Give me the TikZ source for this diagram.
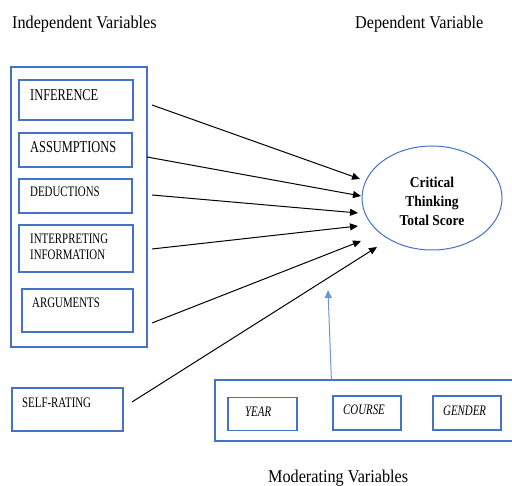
\documentclass[tikz,border=0pt]{standalone}
\usepackage{fontspec}
\setmainfont{Liberation Serif}
\newfontfamily\lblfont{Liberation Serif}[FakeStretch=0.75]
\newfontfamily\ttlfont{Liberation Serif}[FakeStretch=0.9]
\usetikzlibrary{arrows.meta,shapes.geometric,calc}
\definecolor{boxblue}{RGB}{68,114,196}
\definecolor{arrblue}{RGB}{110,150,215}
\begin{document}
\begin{tikzpicture}[x=1pt,y=-1pt,
  bx/.style={draw=boxblue, line width=1.3pt, rectangle, inner sep=0pt},
  lbl/.style={inner sep=0pt, anchor=west, align=left, font=\lblfont\fontsize{14.5}{15.6}\selectfont},
  biglbl/.style={lbl, font=\lblfont\fontsize{16.5}{18}\selectfont},
  ilbl/.style={lbl, font=\lblfont\itshape\fontsize{14.5}{15.6}\selectfont},
  ttl/.style={inner sep=0pt, anchor=base west, font=\ttlfont\fontsize{18}{20}\selectfont},
  arr/.style={-{Triangle[length=8pt,width=7pt]}, line width=1pt, black},
  barr/.style={-{Triangle[length=8pt,width=7pt]}, line width=1pt, arrblue},
]
\useasboundingbox (0,0) rectangle (512,486);

% titles
\node[ttl] (tiv) at (12,28.3) {Independent Variables};
\node[ttl] (tdv) at (355,28.3) {Dependent Variable};
\node[ttl] (tmv) at (268,483) {Moderating Variables};

% independent variables
\node[bx, minimum width=136pt, minimum height=280pt] (iv) at (79,207) {};
\node[bx, minimum width=114pt, minimum height=40pt] (inf) at (76,100) {};
\node[bx, minimum width=113pt, minimum height=34pt] (ass) at (75.5,150) {};
\node[bx, minimum width=113pt, minimum height=34pt] (ded) at (75.5,196) {};
\node[bx, minimum width=114pt, minimum height=47pt] (int) at (76,248.5) {};
\node[bx, minimum width=111pt, minimum height=43pt] (arg) at (77.5,310.5) {};
\node[bx, minimum width=111pt, minimum height=43pt] (self) at (67.5,409.5) {};

\node[biglbl] (inf-t) at (30,95.3) {INFERENCE};
\node[biglbl] (ass-t) at (30,147.5) {ASSUMPTIONS};
\node[lbl] (ded-t) at (30,192) {DEDUCTIONS};
\node[lbl] (int-t) at (30,246.5) {INTERPRETING\\INFORMATION};
\node[lbl] (arg-t) at (32,303) {ARGUMENTS};
\node[lbl] (self-t) at (22,403) {SELF-RATING};

% dependent variable
\node[ellipse, draw=boxblue, line width=1pt, inner sep=0pt,
      minimum width=140pt, minimum height=104pt] (ct) at (432,198) {};
\node[inner sep=0pt, align=center,
      font=\ttlfont\bfseries\fontsize{15}{19}\selectfont] (ct-t) at (432,201)
      {Critical\\Thinking\\Total Score};

% moderating variables
\node[bx, minimum width=299pt, minimum height=61pt] (mod) at (364.5,410.5) {};
\node[bx, minimum width=69pt, minimum height=33pt] (year) at (262.5,414) {};
\node[bx, minimum width=68pt, minimum height=34pt] (course) at (367,413) {};
\node[bx, minimum width=68pt, minimum height=34pt] (gender) at (467,413) {};
\node[ilbl] (year-t) at (245,411.7) {YEAR};
\node[ilbl] (course-t) at (343,410) {COURSE};
\node[ilbl] (gender-t) at (443,411) {GENDER};

% connectors
\coordinate (s1) at (152,105); \coordinate (t1) at (360,179);
\coordinate (s2) at (147,157); \coordinate (t2) at (361,196);
\coordinate (s3) at (152,195); \coordinate (t3) at (358,213);
\coordinate (s4) at (152,249); \coordinate (t4) at (358,226);
\coordinate (s5) at (152,323); \coordinate (t5) at (361,241);
\coordinate (s6) at (132,402); \coordinate (t6) at (377,247);
\coordinate (s7) at ($(mod.north west)+(117,0)$); \coordinate (t7) at (328,290);

\draw[arr] (s1) -- (t1);
\draw[arr] (s2) -- (t2);
\draw[arr] (s3) -- (t3);
\draw[arr] (s4) -- (t4);
\draw[arr] (s5) -- (t5);
\draw[arr] (s6) -- (t6);
\draw[barr] (s7) -- (t7);
\end{tikzpicture}
\end{document}
